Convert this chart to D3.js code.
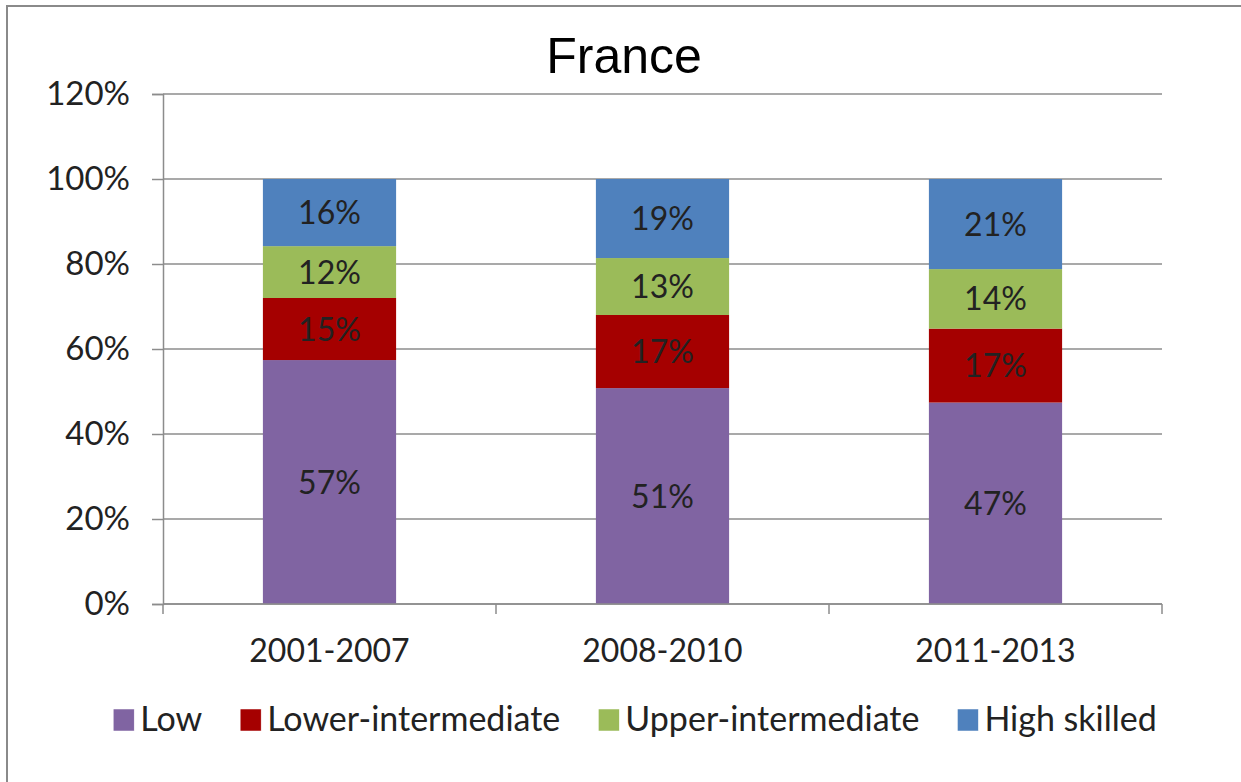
<!DOCTYPE html>
<html><head><meta charset="utf-8">
<script src="https://cdn.jsdelivr.net/npm/d3@7"></script>
<style>body{margin:0;background:#fff}svg{display:block}</style>
</head><body>
<svg id="c" width="1241" height="782"></svg>
<script>
const categories = ["2001-2007", "2008-2010", "2011-2013"];
const seriesNames = ["Low", "Lower-intermediate", "Upper-intermediate", "High skilled"];
const low = [57.4, 50.8, 47.4];
const lowerIntermediate = [14.6, 17.2, 17.4];
const upperIntermediate = [12.2, 13.4, 14.0];
const highSkilled = [15.8, 18.6, 21.2];
const yTicks = [0, 20, 40, 60, 80, 100, 120];
const colors = ["#8064A2", "#A50000", "#9BBB59", "#4F81BD"];
const title = "France";

const svg = d3.select("#c");
const font = "Lato, 'Open Sans', sans-serif";
svg.append("rect").attr("x", 7).attr("y", 6).attr("width", 1260).attr("height", 800)
  .attr("fill", "#fff").attr("stroke", "#8a8a8a").attr("stroke-width", 2);

const L = 163, R = 1162, T = 94, B = 604;
const x = d3.scaleBand().domain(categories).range([L, R]).paddingInner(0.6).paddingOuter(0.3);
const y = d3.scaleLinear().domain([0, 120]).range([B, T]);

// gridlines
svg.append("g").selectAll("line").data(yTicks).join("line")
  .attr("x1", L).attr("x2", R).attr("y1", d => y(d)).attr("y2", d => y(d))
  .attr("stroke", "#8c8c8c").attr("stroke-width", 1.5);

// y axis
const yAxis = svg.append("g").attr("transform", `translate(${L},0)`)
  .call(d3.axisLeft(y).tickValues(yTicks).tickSize(11).tickPadding(22).tickFormat(d => d + "%"));
yAxis.select(".domain").attr("stroke", "#8c8c8c").attr("stroke-width", 1.5);
yAxis.selectAll(".tick line").attr("stroke", "#8c8c8c").attr("stroke-width", 1.5);
yAxis.selectAll("text").attr("font-family", font).attr("font-size", 33).attr("fill", "#222");

// stacked bars
const rows = categories.map((c, i) => ({cat: c, Low: low[i], "Lower-intermediate": lowerIntermediate[i],
  "Upper-intermediate": upperIntermediate[i], "High skilled": highSkilled[i]}));
const stack = d3.stack().keys(seriesNames)(rows);
const g = svg.append("g");
stack.forEach((s, si) => {
  g.append("g").selectAll("rect").data(s).join("rect")
    .attr("x", d => x(d.data.cat)).attr("width", x.bandwidth())
    .attr("y", d => y(d[1])).attr("height", d => y(d[0]) - y(d[1]))
    .attr("fill", colors[si]);
  g.append("g").selectAll("text").data(s).join("text")
    .attr("x", d => x(d.data.cat) + x.bandwidth() / 2)
    .attr("y", d => (y(d[0]) + y(d[1])) / 2)
    .attr("dy", "0.36em").attr("text-anchor", "middle")
    .attr("font-family", font).attr("font-size", 32).attr("fill", "#222")
    .text(d => Math.round(d[1] - d[0]) + "%");
});

// x axis
const xAxisLine = svg.append("g");
xAxisLine.append("line").attr("x1", L).attr("x2", R).attr("y1", B).attr("y2", B)
  .attr("stroke", "#8c8c8c").attr("stroke-width", 1.5);
const bounds = categories.map(c => x(c) - x.step() * x.paddingInner() / 2);
bounds[0] = L; bounds.push(R);
xAxisLine.selectAll("line.t").data(bounds).join("line").attr("class", "t")
  .attr("x1", d => d).attr("x2", d => d).attr("y1", B).attr("y2", B + 10)
  .attr("stroke", "#8c8c8c").attr("stroke-width", 1.5);
svg.append("g").selectAll("text").data(categories).join("text")
  .attr("x", d => x(d) + x.bandwidth() / 2).attr("y", 662)
  .attr("text-anchor", "middle").attr("font-family", font).attr("font-size", 32).attr("fill", "#222")
  .text(d => d);

// title
svg.append("text").attr("x", 624).attr("y", 73).attr("text-anchor", "middle")
  .attr("font-family", "'Liberation Sans', Arial, sans-serif").attr("font-size", 50).attr("fill", "#000")
  .text(title);

// legend
const lg = svg.append("g");
let cx = 0;
seriesNames.forEach((n, i) => {
  const it = lg.append("g").attr("transform", `translate(${cx},0)`);
  it.append("rect").attr("x", 0).attr("y", -22).attr("width", 21).attr("height", 22)
    .attr("fill", colors[i]).attr("stroke", "#fff").attr("stroke-width", 0.5);
  const t = it.append("text").attr("x", 27).attr("y", 0).attr("font-family", font)
    .attr("font-size", 34).attr("fill", "#222").text(n);
  cx += 27 + t.node().getComputedTextLength() + 38;
});
const totalW = cx - 38;
lg.attr("transform", `translate(${(108 + 1162) / 2 - totalW / 2},731)`);
</script>
</body></html>
